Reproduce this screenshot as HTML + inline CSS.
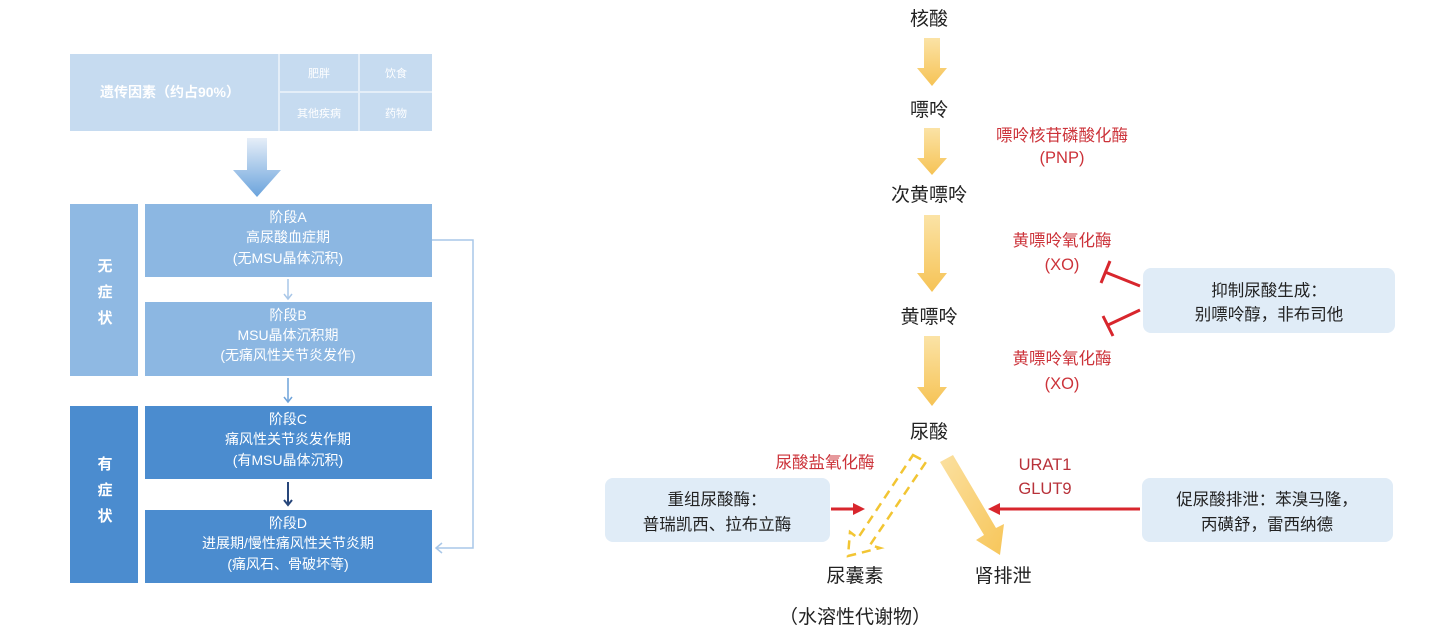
<!DOCTYPE html>
<html><head><meta charset="utf-8"><style>
html,body{margin:0;padding:0;background:#fff;width:1438px;height:638px;overflow:hidden}
svg text{font-family:"Liberation Sans","Noto Sans CJK SC",sans-serif}
</style></head><body>
<svg width="1438" height="638" viewBox="0 0 1438 638" xmlns="http://www.w3.org/2000/svg">
<defs>
<linearGradient id="ya" x1="0" y1="0" x2="0" y2="1"><stop offset="0" stop-color="#fbe3a6"/><stop offset="1" stop-color="#f6c355"/></linearGradient>
<linearGradient id="ba" x1="0" y1="0" x2="0" y2="1"><stop offset="0" stop-color="#e6eef8"/><stop offset="1" stop-color="#6aa3dc"/></linearGradient>
<linearGradient id="yd" x1="0" y1="0" x2="1" y2="1"><stop offset="0" stop-color="#fbe0a0"/><stop offset="1" stop-color="#f7c65a"/></linearGradient>
</defs>
<!-- left top -->
<rect x="70" y="54" width="362" height="77" fill="#c6dbf0"/>
<line x1="279" y1="54" x2="279" y2="131" stroke="#e4eef8" stroke-width="2"/>
<line x1="359" y1="54" x2="359" y2="131" stroke="#e4eef8" stroke-width="2"/>
<line x1="279" y1="92" x2="432" y2="92" stroke="#e4eef8" stroke-width="2"/>
<g fill="#fff" text-anchor="middle">
<text x="170" y="97" font-size="14" font-weight="bold">遗传因素（约占90%）</text>
<text x="319" y="77" font-size="11">肥胖</text>
<text x="396" y="77" font-size="11">饮食</text>
<text x="319" y="117" font-size="11">其他疾病</text>
<text x="396" y="117" font-size="11">药物</text>
</g>
<polygon points="247,138 267,138 267,170 281,170 257,197 233,170 247,170" fill="url(#ba)"/>
<rect x="70" y="204" width="68" height="172" fill="#8fb9e3"/>
<rect x="145" y="204" width="287" height="73" fill="#8cb7e2"/>
<rect x="145" y="302" width="287" height="74" fill="#8cb7e2"/>
<rect x="70" y="406" width="68" height="177" fill="#4b8ccf"/>
<rect x="145" y="406" width="287" height="73" fill="#4b8ccf"/>
<rect x="145" y="510" width="287" height="73" fill="#4b8ccf"/>
<g fill="#fff" font-size="15" font-weight="bold" text-anchor="middle">
<text x="105" y="271">无</text><text x="105" y="297">症</text><text x="105" y="323">状</text>
<text x="105" y="469">有</text><text x="105" y="495">症</text><text x="105" y="521">状</text>
</g>
<g fill="#fff" font-size="14" text-anchor="middle">
<text x="288" y="222">阶段A</text><text x="288" y="242">高尿酸血症期</text><text x="288" y="263">(无MSU晶体沉积)</text>
<text x="288" y="320">阶段B</text><text x="288" y="340">MSU晶体沉积期</text><text x="288" y="360">(无痛风性关节炎发作)</text>
<text x="288" y="424">阶段C</text><text x="288" y="444">痛风性关节炎发作期</text><text x="288" y="465">(有MSU晶体沉积)</text>
<text x="288" y="528">阶段D</text><text x="288" y="548">进展期/慢性痛风性关节炎期</text><text x="288" y="569">(痛风石、骨破坏等)</text>
</g>
<g fill="none" stroke-width="1.5">
<path d="M288 279 V299 M284 294 L288 299 L292 294" stroke="#a9c7e8"/>
<path d="M288 378 V402 M284 397 L288 402 L292 397" stroke="#6fa3da"/>
<path d="M288 482 V505 M284 500 L288 505 L292 500" stroke="#28467a" stroke-width="2"/>
<path d="M432 240 H473 V548 H436 M442 543 L436 548 L442 553" stroke="#a9c7e8"/>
</g>
<!-- right pathway -->
<g fill="url(#ya)">
<polygon points="924,38 940,38 940,68 947,68 932,86 917,68 924,68"/>
<polygon points="924,128 940,128 940,158 947,158 932,175 917,158 924,158"/>
<polygon points="924,215 940,215 940,273 947,273 932,292 917,273 924,273"/>
<polygon points="924,336 940,336 940,387 947,387 932,406 917,387 924,387"/>
</g>
<g fill="#222" font-size="19" text-anchor="middle">
<text x="929" y="25">核酸</text>
<text x="929" y="116">嘌呤</text>
<text x="929" y="201">次黄嘌呤</text>
<text x="929" y="323">黄嘌呤</text>
<text x="929" y="438">尿酸</text>
<text x="855" y="582">尿囊素</text>
<text x="1003" y="582">肾排泄</text>
<text x="855" y="623">（水溶性代谢物）</text>
</g>
<g fill="#cc333a" font-size="16.5" text-anchor="middle">
<text x="1062" y="141">嘌呤核苷磷酸化酶</text>
<text x="1062" y="163">(PNP)</text>
<text x="1062" y="246">黄嘌呤氧化酶</text>
<text x="1062" y="270">(XO)</text>
<text x="1062" y="364">黄嘌呤氧化酶</text>
<text x="1062" y="389">(XO)</text>
<text x="825" y="468">尿酸盐氧化酶</text>
</g>
<g fill="#b8323a" font-size="16.5" text-anchor="middle">
<text x="1045" y="470">URAT1</text>
<text x="1045" y="494">GLUT9</text>
</g>
<!-- inhibition -->
<g stroke="#d8262d" stroke-width="3" fill="none">
<path d="M1140 286 L1105 272 M1101 283 L1110 261"/>
<path d="M1140 310 L1108 325 M1103 316 L1113 336"/>
</g>
<rect x="1143" y="268" width="252" height="65" rx="8" fill="#e0ecf7"/>
<g fill="#222" font-size="16.5" text-anchor="middle">
<text x="1269" y="296">抑制尿酸生成：</text>
<text x="1269" y="320">别嘌呤醇，非布司他</text>
</g>
<rect x="605" y="478" width="225" height="64" rx="8" fill="#e0ecf7"/>
<g fill="#222" font-size="16.5" text-anchor="middle">
<text x="717" y="505">重组尿酸酶：</text>
<text x="717" y="530">普瑞凯西、拉布立酶</text>
</g>
<rect x="1142" y="478" width="251" height="64" rx="8" fill="#e0ecf7"/>
<g fill="#222" font-size="16.5" text-anchor="middle">
<text x="1267" y="505">促尿酸排泄：苯溴马隆，</text>
<text x="1267" y="530">丙磺舒，雷西纳德</text>
</g>
<!-- red arrows -->
<g stroke="#d8262d" stroke-width="3" fill="#d8262d">
<line x1="831" y1="509" x2="855" y2="509"/>
<polygon points="865,509 853,503 853,515" stroke="none"/>
<line x1="1140" y1="509" x2="998" y2="509"/>
<polygon points="988,509 1000,503 1000,515" stroke="none"/>
</g>
<!-- dashed arrow -->
<polygon points="913,455 926,462 870,545 880,548 848,556 850,532 858,538" fill="none" stroke="#f2c533" stroke-width="2.5" stroke-dasharray="9,6"/>
<!-- solid diagonal arrow -->
<polygon points="940,462 953,455 996,528 1004,524 1000,555 976,540 984,535" fill="url(#yd)"/>
</svg>
</body></html>
